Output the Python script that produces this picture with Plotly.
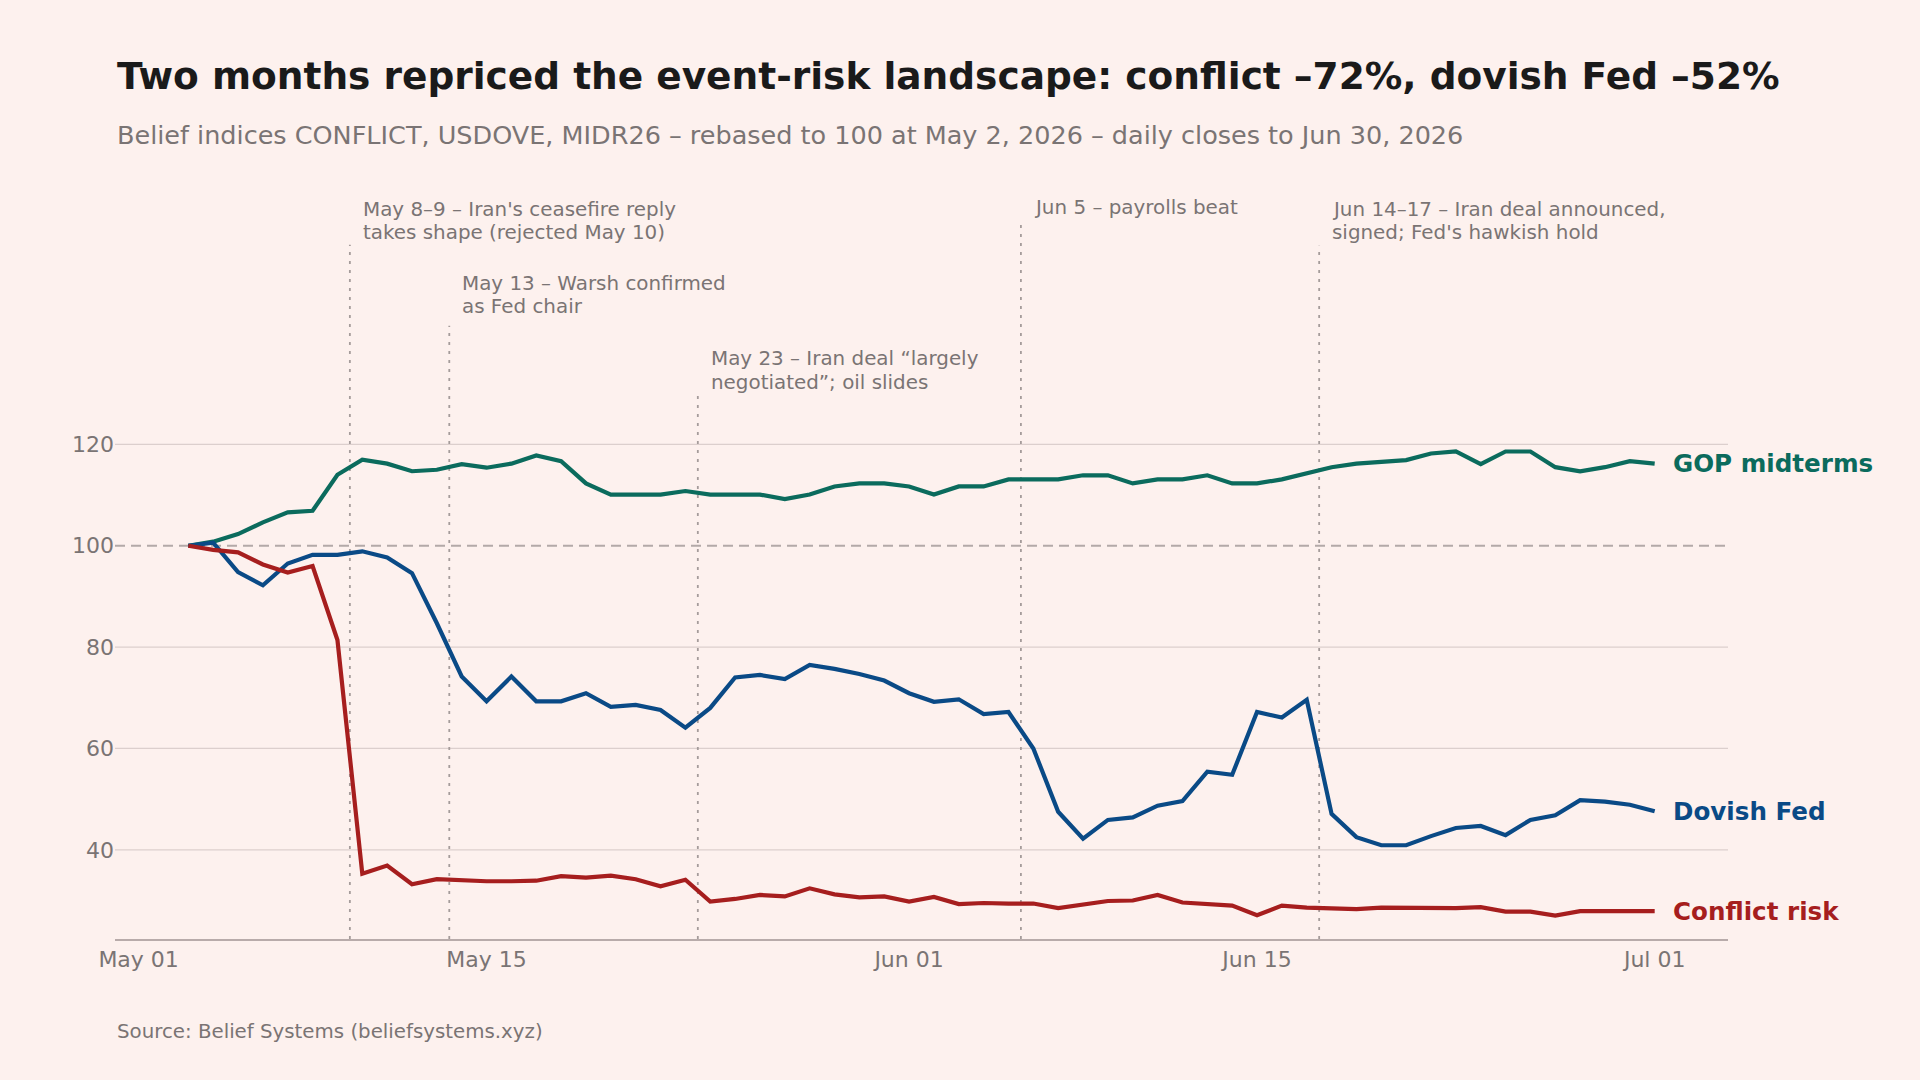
import pandas as pd
import plotly.graph_objects as go

# ---------------- data ----------------
dates = pd.date_range("2026-05-03", periods=60, freq="D")

gop_midterms = [100.0, 100.8, 102.3, 104.6, 106.6, 106.9, 114.0, 117.0, 116.2, 114.7,
                115.0, 116.1, 115.4, 116.2, 117.8, 116.7, 112.3, 110.1, 110.1, 110.1,
                110.8, 110.1, 110.1, 110.1, 109.2, 110.1, 111.7, 112.3, 112.3, 111.7,
                110.1, 111.7, 111.7, 113.1, 113.1, 113.1, 113.9, 113.9, 112.3, 113.1,
                113.1, 113.9, 112.3, 112.3, 113.1, 114.3, 115.5, 116.2, 116.6, 116.9,
                118.2, 118.6, 116.1, 118.6, 118.6, 115.5, 114.7, 115.5, 116.7, 116.2]

dovish_fed = [100.0, 100.6, 94.8, 92.2, 96.5, 98.2, 98.2, 98.9, 97.7, 94.6,
              84.7, 74.2, 69.3, 74.2, 69.3, 69.3, 70.9, 68.2, 68.6, 67.6,
              64.1, 68.0, 74.0, 74.5, 73.7, 76.5, 75.7, 74.7, 73.4, 70.9,
              69.2, 69.7, 66.8, 67.2, 60.0, 47.5, 42.2, 45.9, 46.4, 48.7,
              49.6, 55.4, 54.8, 67.2, 66.1, 69.6, 47.1, 42.5, 40.9, 40.9,
              42.7, 44.3, 44.7, 42.9, 45.9, 46.8, 49.8, 49.5, 48.9, 47.6]

conflict_risk = [100.0, 99.2, 98.7, 96.3, 94.7, 96.0, 81.4, 35.3, 36.9, 33.2,
                 34.2, 33.9, 33.8, 33.8, 33.9, 34.8, 34.5, 34.9, 34.2, 32.8,
                 34.1, 29.8, 30.3, 31.1, 30.8, 32.4, 31.2, 30.6, 30.8, 29.8,
                 30.7, 29.3, 29.5, 29.4, 29.4, 28.5, 29.1, 29.9, 30.0, 31.1,
                 29.6, 29.4, 29.0, 27.1, 29.0, 28.6, 28.5, 28.3, 28.6, 28.5,
                 28.5, 28.5, 28.7, 27.8, 27.8, 27.0, 27.9, 27.9, 28.0, 27.9]

series_names = ["GOP midterms", "Dovish Fed", "Conflict risk"]

x_tick_vals = ["2026-05-01", "2026-05-15", "2026-06-01", "2026-06-15", "2026-07-01"]
x_tick_text = ["May 01", "May 15", "Jun 01", "Jun 15", "Jul 01"]
y_tick_vals = [40, 60, 80, 100, 120]

event_dates = ["2026-05-09 12:00", "2026-05-13 12:00", "2026-05-23 12:00",
               "2026-06-05 12:00", "2026-06-17 12:00"]
event_lines = [["May 8–9 – Iran's ceasefire reply", "takes shape (rejected May 10)"],
               ["May 13 – Warsh confirmed", "as Fed chair"],
               ["May 23 – Iran deal “largely", "negotiated”; oil slides"],
               ["Jun 5 – payrolls beat"],
               ["Jun 14–17 – Iran deal announced,", "signed; Fed's hawkish hold"]]
event_line_tops = [159.4, 143.4, 129.7, 163.3, 159.2]
event_text_y = [[166.4, 161.9], [151.7, 147.2], [136.9, 132.3], [166.8], [166.4, 161.9]]

# ---------------- style ----------------
BG = "#FDF1EE"
COLORS = ["#0B6B5D", "#0A4A86", "#A61E1E"]
GREY_TXT = "#7A7474"
FONT = "DejaVu Sans"

fig = go.Figure()
for name, vals, col in zip(series_names, [gop_midterms, dovish_fed, conflict_risk], COLORS):
    fig.add_trace(go.Scatter(x=dates, y=vals, mode="lines", name=name,
                             line=dict(color=col, width=4.2), showlegend=False,
                             hoverinfo="skip"))

y_min, y_max = 22.4, 170
pad = pd.Timedelta(days=2.95)
x_range = [dates[0] - pad, dates[-1] + pad]

shapes = []
for v in y_tick_vals:
    if v == 100:
        continue
    shapes.append(dict(type="line", xref="paper", yref="y", x0=0, x1=1, y0=v, y1=v,
                       line=dict(color="#DCCFCD", width=1.3), layer="below"))
shapes.append(dict(type="line", xref="paper", yref="y", x0=0, x1=1, y0=100, y1=100,
                   line=dict(color="#B3A9A8", width=1.8, dash="10px,6px"), layer="below"))
for d, top in zip(event_dates, event_line_tops):
    shapes.append(dict(type="line", xref="x", yref="y", x0=d, x1=d, y0=y_min, y1=top,
                       line=dict(color="#A59C9B", width=1.8, dash="3px,6px"), layer="below"))

annotations = []
for d, lines, ys in zip(event_dates, event_lines, event_text_y):
    for txt, yy in zip(lines, ys):
        annotations.append(dict(x=d, y=yy, xref="x", yref="y", text=txt, showarrow=False,
                                xanchor="left", yanchor="middle", xshift=11,
                                font=dict(family=FONT, size=19.9, color=GREY_TXT)))
for name, vals, col in zip(series_names, [gop_midterms, dovish_fed, conflict_risk], COLORS):
    annotations.append(dict(x=dates[-1], y=vals[-1], xref="x", yref="y",
                            text="<b>%s</b>" % name, showarrow=False,
                            xanchor="left", yanchor="middle", xshift=16,
                            font=dict(family=FONT, size=24.6, color=col)))

plot_top, plot_bottom = 191, 939
ph = plot_bottom - plot_top


def paper_y(ypx):
    return (plot_bottom - ypx) / ph


annotations.append(dict(x=0, y=paper_y(76), xref="paper", yref="paper",
                        text="<b>Two months repriced the event-risk landscape: conflict –72%, dovish Fed –52%</b>",
                        showarrow=False, xanchor="left", yanchor="middle",
                        font=dict(family=FONT, size=37.5, color="#1A1A1A")))
annotations.append(dict(x=0, y=paper_y(135), xref="paper", yref="paper",
                        text="Belief indices CONFLICT, USDOVE, MIDR26 – rebased to 100 at May 2, 2026 – daily closes to Jun 30, 2026",
                        showarrow=False, xanchor="left", yanchor="middle",
                        font=dict(family=FONT, size=25.5, color=GREY_TXT)))
annotations.append(dict(x=0, y=paper_y(1031), xref="paper", yref="paper",
                        text="Source: Belief Systems (beliefsystems.xyz)",
                        showarrow=False, xanchor="left", yanchor="middle",
                        font=dict(family=FONT, size=19.8, color=GREY_TXT)))

fig.update_layout(
    width=1920, height=1080,
    paper_bgcolor=BG, plot_bgcolor=BG,
    margin=dict(l=115, r=192, t=plot_top, b=1080 - plot_bottom, pad=0),
    font=dict(family=FONT, color=GREY_TXT),
    shapes=shapes, annotations=annotations,
    xaxis=dict(type="date", range=x_range, tickvals=x_tick_vals, ticktext=x_tick_text,
               showgrid=False, zeroline=False, showline=True, linecolor="#B8ABAA",
               linewidth=2, ticks="", tickfont=dict(family=FONT, size=22, color=GREY_TXT)),
    yaxis=dict(range=[y_min, y_max], tickvals=y_tick_vals, showgrid=False, zeroline=False,
               showline=False, ticks="", tickfont=dict(family=FONT, size=22, color=GREY_TXT)),
)

fig.write_html("out.html")
